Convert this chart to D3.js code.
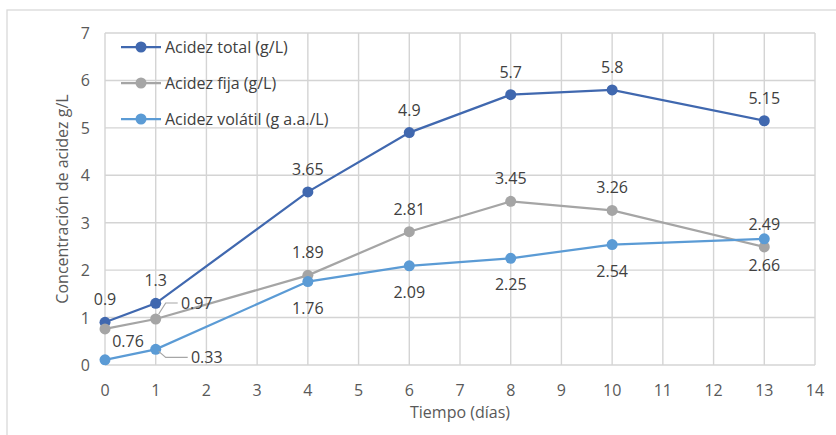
<!DOCTYPE html>
<html>
<head>
<meta charset="utf-8">
<script src="https://cdn.jsdelivr.net/npm/d3@7"></script>
<style>
  body { margin: 0; background: #fff; }
  text { font-family: "Open Sans", sans-serif; }
</style>
</head>
<body>
<svg width="836" height="435"></svg>
<script>
// Data
const dias = [0, 1, 4, 6, 8, 10, 13];
const acidezTotal = [0.9, 1.3, 3.65, 4.9, 5.7, 5.8, 5.15];
const acidezFija = [0.76, 0.97, 1.89, 2.81, 3.45, 3.26, 2.49];
const acidezVolatil = [0.11, 0.33, 1.76, 2.09, 2.25, 2.54, 2.66];
const xTicks = d3.range(0, 15);
const yTicks = d3.range(0, 8);

const series = [
  { name: "Acidez total (g/L)", values: acidezTotal, color: "#4068AF", pos: "above" },
  { name: "Acidez fija (g/L)", values: acidezFija, color: "#A5A5A5", pos: "above" },
  { name: "Acidez volátil (g a.a./L)", values: acidezVolatil, color: "#5B9BD5", pos: "below" }
];

// Label tweaks where Excel moved them by hand: [series index, point index]
const labelTweaks = {
  "1-0": { dx: 23, dy: 12 },
  "1-1": { dx: 41, dy: -16, leader: true },
  "2-0": { hide: true },
  "2-1": { dx: 51, dy: 8, leader: true }
};

const svg = d3.select("svg");
const margin = { top: 33, right: 21, bottom: 70, left: 105 };
const W = 836, H = 435;
const fs = 16;

// outer chart border
svg.append("rect")
  .attr("x", 7).attr("y", 10).attr("width", 840).attr("height", 440)
  .attr("fill", "none").attr("stroke", "#d9d9d9").attr("stroke-width", 1.3);

const x = d3.scaleLinear().domain([0, 14]).range([margin.left, W - margin.right]);
const y = d3.scaleLinear().domain([0, 7]).range([365, margin.top]);

const g = svg.append("g");

// grid
g.selectAll(".vg").data(xTicks).join("line")
  .attr("x1", d => x(d)).attr("x2", d => x(d))
  .attr("y1", y(0)).attr("y2", y(7))
  .attr("stroke", "#d4d4d4").attr("stroke-width", 1.4);
g.selectAll(".hg").data(yTicks).join("line")
  .attr("x1", x(0)).attr("x2", x(14))
  .attr("y1", d => y(d)).attr("y2", d => y(d))
  .attr("stroke", "#d4d4d4").attr("stroke-width", 1.4);

// tick labels
g.selectAll(".xt").data(xTicks).join("text")
  .attr("x", d => x(d)).attr("y", 396)
  .attr("text-anchor", "middle").attr("font-size", fs).attr("fill", "#595959")
  .text(d => d);
g.selectAll(".yt").data(yTicks).join("text")
  .attr("x", 90).attr("y", d => y(d) + 6)
  .attr("text-anchor", "end").attr("font-size", fs).attr("fill", "#595959")
  .text(d => d);

// axis titles
svg.append("text")
  .attr("x", 460).attr("y", 418).attr("text-anchor", "middle")
  .attr("font-size", fs).attr("fill", "#595959").text("Tiempo (días)");
svg.append("text")
  .attr("transform", `translate(68, ${(y(0) + y(7)) / 2}) rotate(-90)`)
  .attr("text-anchor", "middle")
  .attr("font-size", fs).attr("fill", "#595959").text("Concentración de acidez g/L");

const line = d3.line().x(d => x(d[0])).y(d => y(d[1]));

series.forEach((s, si) => {
  const pts = dias.map((d, i) => [d, s.values[i]]);
  g.append("path").datum(pts)
    .attr("d", line).attr("fill", "none")
    .attr("stroke", s.color).attr("stroke-width", 2.25);
  g.selectAll(".pt" + si).data(pts).join("circle")
    .attr("cx", d => x(d[0])).attr("cy", d => y(d[1])).attr("r", 5.5)
    .attr("fill", s.color);
});

// data labels
series.forEach((s, si) => {
  dias.forEach((d, i) => {
    const t = labelTweaks[si + "-" + i] || {};
    if (t.hide) return;
    const px = x(d), py = y(s.values[i]);
    const dx = t.dx != null ? t.dx : 0;
    const dy = t.dy != null ? t.dy : (s.pos === "above" ? -23 : 26);
    if (t.leader) {
      const lx = px + dx - 19, ly = py + dy;
      g.append("path")
        .attr("d", d3.line()([[px + 3, py + (dy < 0 ? -5 : 2)], [px + 10, ly], [lx, ly]]))
        .attr("fill", "none").attr("stroke", "#a6a6a6").attr("stroke-width", 1.2);
    }
    g.append("text")
      .attr("x", px + dx).attr("y", py + dy + 6)
      .attr("text-anchor", "middle").attr("font-size", fs).attr("fill", "#404040")
      .text(s.values[i]);
  });
});

// legend inside plot
const legend = g.append("g");
series.forEach((s, i) => {
  const ly = 47 + i * 36;
  legend.append("line").attr("x1", 121).attr("x2", 161).attr("y1", ly).attr("y2", ly)
    .attr("stroke", s.color).attr("stroke-width", 2.25);
  legend.append("circle").attr("cx", 141).attr("cy", ly).attr("r", 5.5).attr("fill", s.color);
  legend.append("text").attr("x", 165).attr("y", ly + 6)
    .attr("font-size", fs).attr("fill", "#404040").text(s.name);
});
</script>
</body>
</html>
